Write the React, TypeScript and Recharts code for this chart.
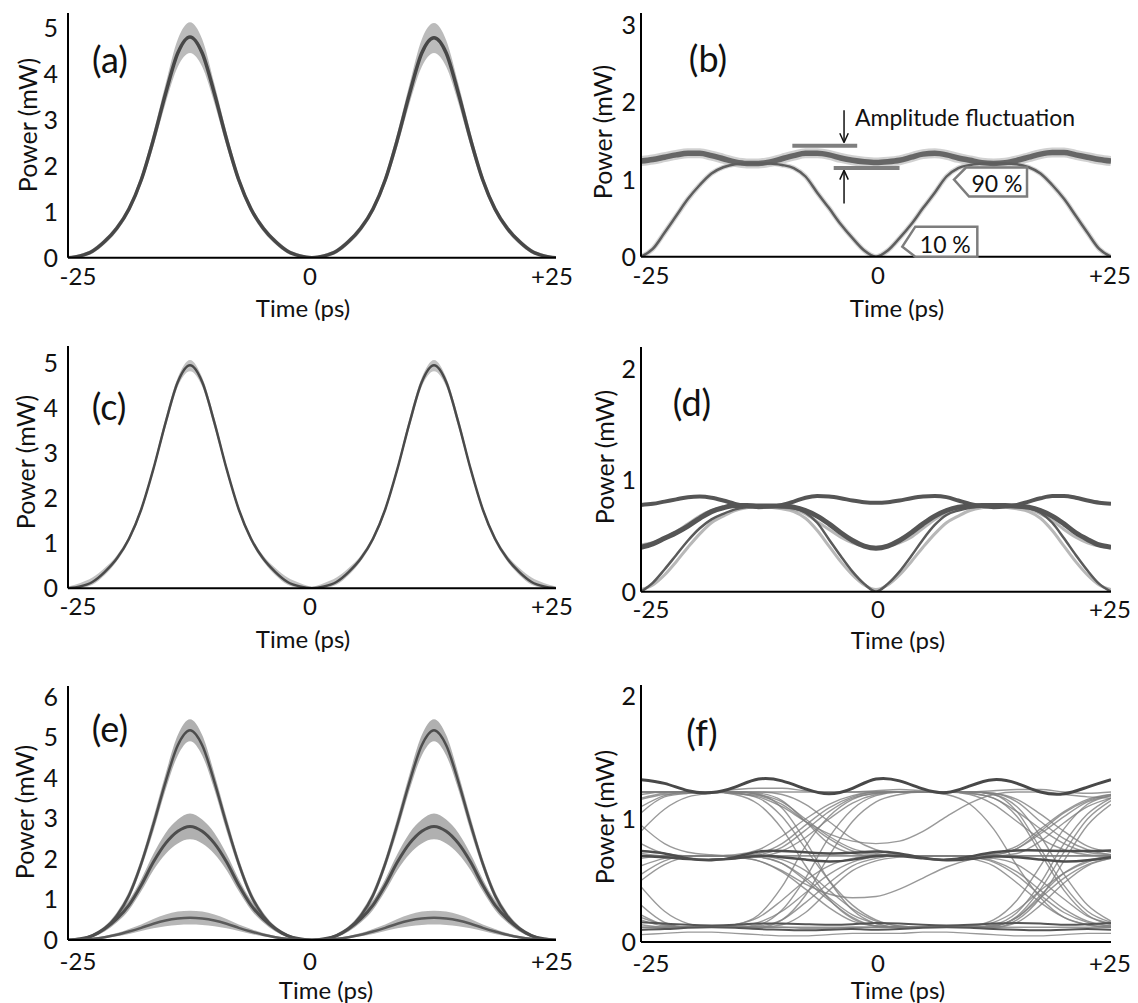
import React from 'react';
import { ComposedChart, Line, Area, XAxis, YAxis, ReferenceLine, ReferenceDot } from 'recharts';

const FONT = 'Lato, "Open Sans", sans-serif';
const INK = '#111';

// time grid (ps)
const TIME = [-25, -23.75, -22.5, -21.25, -20, -18.75, -17.5, -16.25, -15, -13.75, -12.5, -11.25, -10, -8.75, -7.5, -6.25, -5, -3.75, -2.5, -1.25, 0, 1.25, 2.5, 3.75, 5, 6.25, 7.5, 8.75, 10, 11.25, 12.5, 13.75, 15, 16.25, 17.5, 18.75, 20, 21.25, 22.5, 23.75, 25];
const TIME_F = [-25, -22.5, -20, -17.5, -15, -12.5, -10, -7.5, -5, -2.5, 0, 2.5, 5, 7.5, 10, 12.5, 15, 17.5, 20, 22.5, 25];
const X_TICKS = [-25, 0, 25];

// (a)
const A_MID = [0, 0.04, 0.14, 0.35, 0.64, 1.06, 1.69, 2.57, 3.57, 4.45, 4.8, 4.45, 3.57, 2.57, 1.69, 1.06, 0.64, 0.35, 0.14, 0.04, 0, 0.04, 0.14, 0.35, 0.64, 1.06, 1.69, 2.57, 3.57, 4.45, 4.78, 4.45, 3.57, 2.57, 1.69, 1.06, 0.64, 0.35, 0.14, 0.04, 0];
const A_HI = [0.03, 0.08, 0.19, 0.41, 0.71, 1.14, 1.79, 2.72, 3.78, 4.75, 5.12, 4.75, 3.78, 2.72, 1.79, 1.14, 0.71, 0.41, 0.19, 0.08, 0.03, 0.08, 0.19, 0.41, 0.71, 1.14, 1.79, 2.72, 3.78, 4.75, 5.1, 4.73, 3.78, 2.72, 1.79, 1.14, 0.71, 0.41, 0.19, 0.08, 0.03];
const A_LO = [0, 0.01, 0.09, 0.29, 0.57, 0.98, 1.59, 2.42, 3.36, 4.15, 4.45, 4.15, 3.36, 2.42, 1.59, 0.98, 0.57, 0.29, 0.09, 0.01, 0, 0.01, 0.09, 0.29, 0.57, 0.98, 1.59, 2.42, 3.36, 4.15, 4.45, 4.15, 3.36, 2.42, 1.59, 0.98, 0.57, 0.29, 0.09, 0.01, 0];

// (b)
const B_UPPER = [1.24, 1.26, 1.29, 1.32, 1.34, 1.34, 1.31, 1.27, 1.23, 1.21, 1.21, 1.23, 1.27, 1.31, 1.34, 1.34, 1.32, 1.28, 1.25, 1.23, 1.22, 1.23, 1.25, 1.29, 1.33, 1.34, 1.32, 1.28, 1.25, 1.22, 1.21, 1.22, 1.25, 1.29, 1.33, 1.35, 1.35, 1.32, 1.29, 1.26, 1.24];
const B_LOWER = [0, 0.1, 0.31, 0.53, 0.75, 0.93, 1.08, 1.16, 1.2, 1.21, 1.21, 1.21, 1.19, 1.15, 1.04, 0.83, 0.63, 0.42, 0.24, 0.08, 0, 0.08, 0.24, 0.42, 0.63, 0.83, 1.04, 1.15, 1.19, 1.21, 1.21, 1.21, 1.2, 1.16, 1.08, 0.93, 0.75, 0.53, 0.31, 0.1, 0];

// (c)
const C_MID = [0, 0.04, 0.14, 0.36, 0.66, 1.1, 1.75, 2.65, 3.68, 4.58, 4.95, 4.58, 3.68, 2.65, 1.75, 1.1, 0.66, 0.36, 0.14, 0.04, 0, 0.04, 0.14, 0.36, 0.66, 1.1, 1.75, 2.65, 3.68, 4.58, 4.95, 4.58, 3.68, 2.65, 1.75, 1.1, 0.66, 0.36, 0.14, 0.04, 0];
const C_HI = [0.04, 0.12, 0.24, 0.45, 0.73, 1.16, 1.81, 2.72, 3.78, 4.68, 5.07, 4.68, 3.78, 2.72, 1.81, 1.16, 0.73, 0.45, 0.24, 0.12, 0.04, 0.12, 0.24, 0.45, 0.73, 1.16, 1.81, 2.72, 3.78, 4.68, 5.07, 4.68, 3.78, 2.72, 1.81, 1.16, 0.73, 0.45, 0.24, 0.12, 0.04];
const C_LO = [0, 0.01, 0.08, 0.29, 0.6, 1.04, 1.69, 2.58, 3.58, 4.48, 4.82, 4.48, 3.58, 2.58, 1.69, 1.04, 0.6, 0.29, 0.08, 0.01, 0, 0.01, 0.08, 0.29, 0.6, 1.04, 1.69, 2.58, 3.58, 4.48, 4.82, 4.48, 3.58, 2.58, 1.69, 1.04, 0.6, 0.29, 0.08, 0.01, 0];

// (d)
const D_UPPER = [0.78, 0.79, 0.81, 0.83, 0.85, 0.855, 0.845, 0.82, 0.79, 0.77, 0.76, 0.765, 0.78, 0.81, 0.845, 0.86, 0.855, 0.84, 0.82, 0.805, 0.8, 0.805, 0.82, 0.84, 0.855, 0.86, 0.85, 0.82, 0.79, 0.77, 0.76, 0.765, 0.78, 0.81, 0.84, 0.86, 0.86, 0.845, 0.82, 0.8, 0.79];
const D_MID = [0.4, 0.43, 0.48, 0.53, 0.59, 0.66, 0.72, 0.755, 0.775, 0.775, 0.77, 0.77, 0.77, 0.76, 0.73, 0.68, 0.61, 0.53, 0.46, 0.41, 0.39, 0.41, 0.46, 0.53, 0.61, 0.68, 0.73, 0.76, 0.77, 0.775, 0.775, 0.775, 0.77, 0.76, 0.73, 0.68, 0.61, 0.53, 0.47, 0.42, 0.4];
const D_MID_ALT = [0.42, 0.44, 0.48, 0.54, 0.61, 0.68, 0.73, 0.76, 0.77, 0.775, 0.775, 0.77, 0.76, 0.74, 0.7, 0.63, 0.56, 0.49, 0.44, 0.41, 0.4, 0.41, 0.44, 0.49, 0.57, 0.65, 0.71, 0.75, 0.77, 0.775, 0.775, 0.775, 0.765, 0.745, 0.7, 0.64, 0.56, 0.49, 0.44, 0.41, 0.4];
const D_LOW = [0, 0.08, 0.2, 0.33, 0.46, 0.57, 0.65, 0.7, 0.74, 0.76, 0.765, 0.765, 0.76, 0.75, 0.71, 0.62, 0.47, 0.32, 0.18, 0.07, 0, 0.07, 0.18, 0.32, 0.47, 0.6, 0.69, 0.73, 0.755, 0.765, 0.765, 0.765, 0.76, 0.75, 0.71, 0.62, 0.48, 0.33, 0.19, 0.07, 0];
const D_LOW_ALT = [0.02, 0.06, 0.15, 0.27, 0.4, 0.52, 0.62, 0.68, 0.73, 0.755, 0.765, 0.76, 0.745, 0.72, 0.66, 0.55, 0.41, 0.27, 0.15, 0.06, 0.02, 0.06, 0.15, 0.27, 0.4, 0.52, 0.62, 0.68, 0.73, 0.755, 0.765, 0.76, 0.745, 0.72, 0.66, 0.55, 0.41, 0.27, 0.15, 0.06, 0.02];

// (e)
const E_TOP = [0, 0.02, 0.1, 0.28, 0.6, 1.1, 1.88, 2.85, 3.9, 4.8, 5.17, 4.8, 3.9, 2.85, 1.88, 1.1, 0.6, 0.28, 0.1, 0.02, 0, 0.02, 0.1, 0.28, 0.6, 1.1, 1.88, 2.85, 3.9, 4.8, 5.17, 4.8, 3.9, 2.85, 1.88, 1.1, 0.6, 0.28, 0.1, 0.02, 0];
const E_TOP_HI = [0.02, 0.05, 0.14, 0.34, 0.68, 1.2, 2.0, 3.02, 4.1, 5.05, 5.44, 5.05, 4.1, 3.02, 2.0, 1.2, 0.68, 0.34, 0.14, 0.05, 0.02, 0.05, 0.14, 0.34, 0.68, 1.2, 2.0, 3.02, 4.1, 5.05, 5.44, 5.05, 4.1, 3.02, 2.0, 1.2, 0.68, 0.34, 0.14, 0.05, 0.02];
const E_TOP_LO = [0, 0, 0.06, 0.22, 0.52, 1.0, 1.76, 2.68, 3.7, 4.55, 4.9, 4.55, 3.7, 2.68, 1.76, 1.0, 0.52, 0.22, 0.06, 0, 0, 0, 0.06, 0.22, 0.52, 1.0, 1.76, 2.68, 3.7, 4.55, 4.9, 4.55, 3.7, 2.68, 1.76, 1.0, 0.52, 0.22, 0.06, 0, 0];
const E_MID = [0, 0.03, 0.11, 0.28, 0.52, 0.86, 1.35, 1.92, 2.38, 2.68, 2.8, 2.68, 2.38, 1.92, 1.35, 0.86, 0.52, 0.28, 0.11, 0.03, 0, 0.03, 0.11, 0.28, 0.52, 0.86, 1.35, 1.92, 2.38, 2.68, 2.8, 2.68, 2.38, 1.92, 1.35, 0.86, 0.52, 0.28, 0.11, 0.03, 0];
const E_MID_HI = [0.02, 0.05, 0.15, 0.34, 0.61, 0.98, 1.5, 2.12, 2.64, 2.97, 3.12, 2.97, 2.64, 2.12, 1.5, 0.98, 0.61, 0.34, 0.15, 0.05, 0.02, 0.05, 0.15, 0.34, 0.61, 0.98, 1.5, 2.12, 2.64, 2.97, 3.12, 2.97, 2.64, 2.12, 1.5, 0.98, 0.61, 0.34, 0.15, 0.05, 0.02];
const E_MID_LO = [0, 0.01, 0.07, 0.21, 0.43, 0.74, 1.2, 1.72, 2.12, 2.38, 2.48, 2.38, 2.12, 1.72, 1.2, 0.74, 0.43, 0.21, 0.07, 0.01, 0, 0.01, 0.07, 0.21, 0.43, 0.74, 1.2, 1.72, 2.12, 2.38, 2.48, 2.38, 2.12, 1.72, 1.2, 0.74, 0.43, 0.21, 0.07, 0.01, 0];
const E_LOW = [0, 0.01, 0.03, 0.07, 0.13, 0.21, 0.3, 0.4, 0.48, 0.53, 0.55, 0.53, 0.48, 0.4, 0.3, 0.21, 0.13, 0.07, 0.03, 0.01, 0, 0.01, 0.03, 0.07, 0.13, 0.21, 0.3, 0.4, 0.48, 0.53, 0.55, 0.53, 0.48, 0.4, 0.3, 0.21, 0.13, 0.07, 0.03, 0.01, 0];
const E_LOW_HI = [0.01, 0.02, 0.05, 0.1, 0.17, 0.27, 0.38, 0.52, 0.63, 0.7, 0.72, 0.7, 0.63, 0.52, 0.38, 0.27, 0.17, 0.1, 0.05, 0.02, 0.01, 0.02, 0.05, 0.1, 0.17, 0.27, 0.38, 0.52, 0.63, 0.7, 0.72, 0.7, 0.63, 0.52, 0.38, 0.27, 0.17, 0.1, 0.05, 0.02, 0.01];
const E_LOW_LO = [0, 0, 0.01, 0.04, 0.09, 0.15, 0.22, 0.29, 0.34, 0.37, 0.38, 0.37, 0.34, 0.29, 0.22, 0.15, 0.09, 0.04, 0.01, 0, 0, 0, 0.01, 0.04, 0.09, 0.15, 0.22, 0.29, 0.34, 0.37, 0.38, 0.37, 0.34, 0.29, 0.22, 0.15, 0.09, 0.04, 0.01, 0, 0];

// (f) steady levels
const F_TOP = [1.32, 1.29, 1.23, 1.215, 1.26, 1.325, 1.31, 1.245, 1.205, 1.25, 1.325, 1.31, 1.245, 1.215, 1.27, 1.32, 1.29, 1.22, 1.205, 1.26, 1.32];
const F_MID_A = [0.74, 0.72, 0.68, 0.665, 0.69, 0.735, 0.74, 0.73, 0.72, 0.725, 0.735, 0.72, 0.685, 0.67, 0.695, 0.73, 0.745, 0.745, 0.74, 0.74, 0.745];
const F_MID_B = [0.7, 0.69, 0.675, 0.67, 0.68, 0.7, 0.69, 0.67, 0.655, 0.67, 0.7, 0.7, 0.68, 0.665, 0.675, 0.695, 0.69, 0.67, 0.655, 0.665, 0.69];
const F_LOW_A = [0.16, 0.15, 0.14, 0.135, 0.14, 0.15, 0.15, 0.145, 0.14, 0.145, 0.155, 0.15, 0.14, 0.135, 0.14, 0.15, 0.155, 0.15, 0.14, 0.145, 0.155];
const F_LOW_B = [0.1, 0.105, 0.115, 0.12, 0.115, 0.105, 0.1, 0.095, 0.1, 0.105, 0.1, 0.105, 0.115, 0.12, 0.115, 0.105, 0.1, 0.095, 0.1, 0.105, 0.1];

// (f) transition traces
const F_T1 = [1.17, 1.21, 1.22, 1.22, 1.22, 1.2, 1.09, 0.82, 0.5, 0.26, 0.15, 0.12, 0.12, 0.12, 0.12, 0.13, 0.21, 0.43, 0.73, 1.0, 1.15];
const F_T2 = [1.1, 1.19, 1.22, 1.22, 1.21, 1.19, 1.12, 0.98, 0.84, 0.74, 0.71, 0.7, 0.7, 0.7, 0.69, 0.68, 0.63, 0.5, 0.35, 0.21, 0.15];
const F_T3 = [0.62, 0.68, 0.7, 0.7, 0.7, 0.71, 0.77, 0.91, 1.06, 1.17, 1.21, 1.22, 1.22, 1.22, 1.22, 1.21, 1.16, 1.04, 0.9, 0.78, 0.73];
const F_T4 = [0.3, 0.16, 0.12, 0.12, 0.12, 0.14, 0.26, 0.52, 0.85, 1.08, 1.19, 1.22, 1.22, 1.22, 1.22, 1.2, 1.1, 0.86, 0.55, 0.3, 0.17];
const F_T5 = [0.8, 0.72, 0.7, 0.7, 0.7, 0.69, 0.64, 0.5, 0.34, 0.2, 0.13, 0.12, 0.12, 0.12, 0.12, 0.14, 0.24, 0.48, 0.8, 1.04, 1.17];
const F_T6 = [0.18, 0.13, 0.12, 0.12, 0.12, 0.13, 0.18, 0.32, 0.48, 0.62, 0.68, 0.7, 0.7, 0.7, 0.7, 0.71, 0.76, 0.88, 1.02, 1.14, 1.19];
const F_T7 = [1.2, 1.22, 1.22, 1.22, 1.2, 1.12, 0.92, 0.62, 0.35, 0.19, 0.13, 0.12, 0.12, 0.12, 0.12, 0.12, 0.16, 0.3, 0.48, 0.62, 0.68];
const F_T8 = [0.5, 0.63, 0.69, 0.7, 0.7, 0.7, 0.74, 0.85, 1.0, 1.13, 1.2, 1.22, 1.22, 1.22, 1.21, 1.17, 1.02, 0.72, 0.42, 0.22, 0.14];
const F_T9 = [0.14, 0.12, 0.12, 0.12, 0.13, 0.16, 0.25, 0.4, 0.55, 0.65, 0.69, 0.7, 0.7, 0.7, 0.69, 0.66, 0.57, 0.42, 0.27, 0.17, 0.13];
const F_T10 = [1.22, 1.22, 1.22, 1.22, 1.21, 1.18, 1.1, 0.98, 0.88, 0.82, 0.8, 0.82, 0.9, 1.02, 1.13, 1.2, 1.22, 1.22, 1.2, 1.18, 1.17];
const F_T11 = [0.7, 0.7, 0.7, 0.7, 0.69, 0.66, 0.57, 0.43, 0.28, 0.17, 0.13, 0.12, 0.12, 0.12, 0.13, 0.16, 0.26, 0.42, 0.56, 0.65, 0.69];
const F_T12 = [0.2, 0.14, 0.12, 0.12, 0.12, 0.12, 0.18, 0.38, 0.7, 0.98, 1.14, 1.2, 1.22, 1.22, 1.22, 1.21, 1.14, 0.98, 0.84, 0.75, 0.71];
const F_T13 = [1.16, 1.2, 1.21, 1.22, 1.24, 1.25, 1.25, 1.23, 1.22, 1.22, 1.23, 1.24, 1.23, 1.22, 1.22, 1.2, 1.06, 0.76, 0.46, 0.25, 0.16];
const F_T14 = [0.1, 0.11, 0.12, 0.12, 0.12, 0.12, 0.12, 0.11, 0.11, 0.12, 0.12, 0.12, 0.12, 0.12, 0.12, 0.13, 0.2, 0.36, 0.52, 0.63, 0.68];
const F_T15 = [0.7, 0.7, 0.7, 0.7, 0.7, 0.7, 0.7, 0.7, 0.7, 0.7, 0.7, 0.7, 0.7, 0.7, 0.7, 0.71, 0.76, 0.9, 1.05, 1.15, 1.2];
const F_T16 = [0.45, 0.25, 0.15, 0.12, 0.12, 0.12, 0.14, 0.24, 0.42, 0.58, 0.66, 0.69, 0.7, 0.7, 0.7, 0.7, 0.7, 0.7, 0.7, 0.7, 0.7];
const F_T17 = [0.7, 0.7, 0.7, 0.7, 0.69, 0.66, 0.58, 0.47, 0.39, 0.36, 0.37, 0.43, 0.52, 0.61, 0.67, 0.7, 0.7, 0.7, 0.7, 0.7, 0.7];
const F_T18 = [1.22, 1.22, 1.22, 1.22, 1.22, 1.22, 1.2, 1.12, 0.98, 0.84, 0.75, 0.71, 0.7, 0.7, 0.7, 0.7, 0.72, 0.82, 0.97, 1.1, 1.17];
const F_T19 = [1.05, 1.18, 1.21, 1.22, 1.21, 1.17, 1.02, 0.76, 0.5, 0.3, 0.18, 0.13, 0.12, 0.12, 0.12, 0.12, 0.12, 0.12, 0.12, 0.12, 0.12];
const F_T20 = [0.55, 0.66, 0.7, 0.7, 0.7, 0.72, 0.8, 0.95, 1.09, 1.18, 1.22, 1.22, 1.22, 1.22, 1.22, 1.23, 1.24, 1.24, 1.22, 1.21, 1.22];
const F_T21 = [0.22, 0.14, 0.12, 0.12, 0.14, 0.2, 0.34, 0.5, 0.62, 0.68, 0.7, 0.7, 0.7, 0.7, 0.68, 0.62, 0.48, 0.32, 0.2, 0.14, 0.12];
const F_T22 = [1.22, 1.22, 1.22, 1.22, 1.22, 1.2, 1.14, 1.0, 0.86, 0.76, 0.72, 0.7, 0.7, 0.7, 0.7, 0.72, 0.78, 0.92, 1.06, 1.16, 1.2];
const F_T23 = [0.68, 0.7, 0.7, 0.7, 0.7, 0.7, 0.67, 0.58, 0.42, 0.27, 0.17, 0.13, 0.12, 0.12, 0.12, 0.12, 0.18, 0.36, 0.66, 0.95, 1.12];
const F_T24 = [0.12, 0.12, 0.12, 0.12, 0.14, 0.22, 0.45, 0.78, 1.02, 1.16, 1.21, 1.22, 1.22, 1.22, 1.2, 1.12, 0.98, 0.84, 0.75, 0.71, 0.7];
const F_T25 = [0.72, 0.7, 0.7, 0.7, 0.7, 0.7, 0.7, 0.7, 0.7, 0.7, 0.7, 0.7, 0.7, 0.7, 0.69, 0.65, 0.54, 0.38, 0.24, 0.16, 0.13];
const F_T26 = [1.22, 1.22, 1.22, 1.22, 1.22, 1.22, 1.22, 1.22, 1.22, 1.22, 1.22, 1.22, 1.22, 1.22, 1.21, 1.17, 1.06, 0.92, 0.8, 0.73, 0.71];
const F_T27 = [0.12, 0.12, 0.12, 0.12, 0.12, 0.12, 0.12, 0.12, 0.12, 0.12, 0.12, 0.12, 0.12, 0.12, 0.13, 0.18, 0.34, 0.62, 0.92, 1.12, 1.19];
const F_T28 = [0.7, 0.7, 0.7, 0.7, 0.71, 0.75, 0.86, 1.0, 1.12, 1.19, 1.22, 1.22, 1.22, 1.2, 1.12, 0.92, 0.62, 0.36, 0.2, 0.14, 0.12];
const F_T29 = [0.95, 0.8, 0.73, 0.71, 0.7, 0.69, 0.64, 0.52, 0.36, 0.22, 0.15, 0.12, 0.12, 0.12, 0.12, 0.13, 0.2, 0.38, 0.56, 0.66, 0.7];
const F_T30 = [0.9, 1.08, 1.18, 1.21, 1.22, 1.21, 1.15, 0.98, 0.8, 0.72, 0.7, 0.7, 0.7, 0.7, 0.7, 0.7, 0.7, 0.7, 0.7, 0.7, 0.7];
const F_T31 = [0.06, 0.07, 0.08, 0.08, 0.07, 0.06, 0.05, 0.05, 0.06, 0.07, 0.07, 0.07, 0.08, 0.08, 0.07, 0.06, 0.05, 0.05, 0.06, 0.07, 0.07];
const F_TRACES = [F_T1, F_T2, F_T3, F_T4, F_T5, F_T6, F_T7, F_T8, F_T9, F_T10, F_T11, F_T12, F_T13, F_T14, F_T15, F_T16, F_T17, F_T18, F_T19, F_T20, F_T21, F_T22, F_T23, F_T24, F_T25, F_T26, F_T27, F_T28, F_T29, F_T30, F_T31];

const dataA = TIME.map((t, i) => ({ t, mid: A_MID[i], band: [A_LO[i], A_HI[i]] }));
const dataB = TIME.map((t, i) => ({ t, upper: B_UPPER[i], lower: B_LOWER[i] }));
const dataC = TIME.map((t, i) => ({ t, mid: C_MID[i], band: [C_LO[i], C_HI[i]] }));
const dataD = TIME.map((t, i) => ({ t, upper: D_UPPER[i], mid: D_MID[i], midAlt: D_MID_ALT[i], low: D_LOW[i], lowAlt: D_LOW_ALT[i] }));
const dataE = TIME.map((t, i) => ({
  t,
  top: E_TOP[i], topBand: [E_TOP_LO[i], E_TOP_HI[i]],
  mid: E_MID[i], midBand: [E_MID_LO[i], E_MID_HI[i]],
  low: E_LOW[i], lowBand: [E_LOW_LO[i], E_LOW_HI[i]],
}));
const dataF = TIME_F.map((t, i) => {
  const row: Record<string, number> = { t, top: F_TOP[i], midA: F_MID_A[i], midB: F_MID_B[i], lowA: F_LOW_A[i], lowB: F_LOW_B[i] };
  F_TRACES.forEach((tr, k) => { row['tr' + k] = tr[i]; });
  return row;
});

const X_SHIFT: Record<string, Record<number, number>> = {
  left: { [-25]: 10, 0: -2, 25: -4 },
  right: { [-25]: 10, 0: 2, 25: -1 },
};

function XTick({ x, y, payload, side, drop }: any) {
  const v = payload.value;
  const label = v > 0 ? `+${v}` : `${v}`;
  return (
    <text x={x + (X_SHIFT[side][v] ?? 0)} y={y + drop} textAnchor="middle" fontSize={24} fontFamily={FONT} fill={INK}>
      {label}
    </text>
  );
}

function YTick({ x, y, payload, gap }: any) {
  return (
    <text x={x - gap} y={y + 9} textAnchor="end" fontSize={25} fontFamily={FONT} fill={INK}>
      {payload.value}
    </text>
  );
}

function Panel({ left, top, width, height, plot, yMax, yTicks, data, side, drop, children }: any) {
  const margin = {
    top: plot.t - top,
    right: left + width - plot.r,
    bottom: top + height - plot.b - 40,
    left: plot.l - left - 40,
  };
  return (
    <div style={{ position: 'absolute', left, top, width, height }}>
      <ComposedChart width={width} height={height} data={data} margin={margin}>
        <XAxis
          dataKey="t"
          type="number"
          domain={[-25, 25]}
          ticks={X_TICKS}
          interval={0}
          allowDataOverflow
          height={40}
          tickSize={0}
          tickMargin={0}
          tickLine={false}
          axisLine={{ stroke: '#000', strokeWidth: 2 }}
          tick={(p: any) => <XTick {...p} side={side} drop={drop} />}
        />
        <YAxis
          type="number"
          domain={[0, yMax]}
          ticks={yTicks}
          interval={0}
          allowDataOverflow
          width={40}
          tickSize={0}
          tickMargin={0}
          tickLine={false}
          axisLine={{ stroke: '#000', strokeWidth: 2 }}
          tick={(p: any) => <YTick {...p} gap={side === 'left' ? 10 : 5} />}
        />
        {children}
      </ComposedChart>
    </div>
  );
}

function Callout({ cx, cy, pts, label, tx, ty }: any) {
  return (
    <g>
      <polygon
        points={pts.map(([px, py]: number[]) => `${cx + px},${cy + py}`).join(' ')}
        fill="#fff"
        stroke="#7d7d7d"
        strokeWidth={2.5}
      />
      <text x={cx + tx} y={cy + ty} textAnchor="middle" dominantBaseline="central" fontSize={23} fontFamily={FONT} fill={INK}>
        {label}
      </text>
    </g>
  );
}

const lineProps = { type: 'monotone' as const, dot: false, activeDot: false, isAnimationActive: false };
const bandProps = { type: 'monotone' as const, stroke: 'none', isAnimationActive: false, activeDot: false };

const LEFT_X = { l: 68, r: 556 };
const RIGHT_X = { l: 641, r: 1111 };

const LETTERS = [
  { s: '(a)', x: 110, y: 59 },
  { s: '(b)', x: 708, y: 58 },
  { s: '(c)', x: 109, y: 406 },
  { s: '(d)', x: 692, y: 402 },
  { s: '(e)', x: 110, y: 728 },
  { s: '(f)', x: 702, y: 732 },
];
const Y_TITLES = [
  { x: 27, y: 125 }, { x: 602, y: 132 },
  { x: 25, y: 462 }, { x: 604, y: 457 },
  { x: 24, y: 812 }, { x: 604, y: 817 },
];
const X_TITLES = [
  { x: 303, y: 317 }, { x: 897, y: 317 },
  { x: 303, y: 648 }, { x: 898, y: 649 },
  { x: 326, y: 999 }, { x: 898, y: 999 },
];

export default function App() {
  return (
    <div style={{ position: 'absolute', left: 0, top: 0, width: 1138, height: 1003, background: '#fff', fontFamily: FONT }}>
      {/* (a) */}
      <Panel left={0} top={0} width={578} height={330} plot={{ ...LEFT_X, t: 13, b: 257.7 }} yMax={5.32} yTicks={[0, 1, 2, 3, 4, 5]} data={dataA} side="left" drop={27}>
        <Area {...bandProps} dataKey="band" fill="#777" fillOpacity={0.5} />
        <Line {...lineProps} dataKey="mid" stroke="#474747" strokeWidth={3.5} />
      </Panel>

      {/* (b) */}
      <Panel left={570} top={0} width={568} height={330} plot={{ ...RIGHT_X, t: 13, b: 256.7 }} yMax={3.16} yTicks={[0, 1, 2, 3]} data={dataB} side="right" drop={27}>
        <Line {...lineProps} dataKey="upper" stroke="#bdbdbd" strokeWidth={10} strokeOpacity={0.7} />
        <Line {...lineProps} dataKey="lower" stroke="#c4c4c4" strokeWidth={5} strokeOpacity={0.7} />
        <Line {...lineProps} dataKey="upper" stroke="#666" strokeWidth={5.5} />
        <Line {...lineProps} dataKey="lower" stroke="#5e5e5e" strokeWidth={2.5} />
        <ReferenceLine segment={[{ x: -8.9, y: 1.44 }, { x: -2.0, y: 1.44 }]} stroke="#7f7f7f" strokeWidth={4} ifOverflow="visible" />
        <ReferenceLine segment={[{ x: -4.5, y: 1.15 }, { x: 2.5, y: 1.15 }]} stroke="#7f7f7f" strokeWidth={4} ifOverflow="visible" />
        <ReferenceLine segment={[{ x: -3.4, y: 1.9 }, { x: -3.4, y: 1.48 }]} stroke={INK} strokeWidth={1.5} ifOverflow="visible" />
        <ReferenceLine segment={[{ x: -3.85, y: 1.6 }, { x: -3.4, y: 1.48 }]} stroke={INK} strokeWidth={1.5} ifOverflow="visible" />
        <ReferenceLine segment={[{ x: -2.95, y: 1.6 }, { x: -3.4, y: 1.48 }]} stroke={INK} strokeWidth={1.5} ifOverflow="visible" />
        <ReferenceLine segment={[{ x: -3.4, y: 0.69 }, { x: -3.4, y: 1.12 }]} stroke={INK} strokeWidth={1.5} ifOverflow="visible" />
        <ReferenceLine segment={[{ x: -3.85, y: 1.0 }, { x: -3.4, y: 1.12 }]} stroke={INK} strokeWidth={1.5} ifOverflow="visible" />
        <ReferenceLine segment={[{ x: -2.95, y: 1.0 }, { x: -3.4, y: 1.12 }]} stroke={INK} strokeWidth={1.5} ifOverflow="visible" />
        <ReferenceDot
          x={8.3}
          y={1.0}
          r={0}
          ifOverflow="visible"
          shape={(p: any) => (
            <Callout cx={p.cx} cy={p.cy} pts={[[0, 0], [12, -12], [73, -12], [73, 17], [15, 17]]} label="90 %" tx={43} ty={3} />
          )}
        />
        <ReferenceDot
          x={2.8}
          y={0.13}
          r={0}
          ifOverflow="visible"
          shape={(p: any) => (
            <Callout cx={p.cx} cy={p.cy} pts={[[0, 0], [13, -20], [75, -20], [75, 10], [13, 10]]} label="10 %" tx={43} ty={-3} />
          )}
        />
      </Panel>

      {/* (c) */}
      <Panel left={0} top={330} width={578} height={330} plot={{ ...LEFT_X, t: 346, b: 588.3 }} yMax={5.38} yTicks={[0, 1, 2, 3, 4, 5]} data={dataC} side="left" drop={27}>
        <Area {...bandProps} dataKey="band" fill="#777" fillOpacity={0.45} />
        <Line {...lineProps} dataKey="mid" stroke="#4a4a4a" strokeWidth={2.5} />
      </Panel>

      {/* (d) */}
      <Panel left={570} top={330} width={568} height={330} plot={{ ...RIGHT_X, t: 347, b: 591.7 }} yMax={2.2} yTicks={[0, 1, 2]} data={dataD} side="right" drop={26}>
        <Line {...lineProps} dataKey="midAlt" stroke="#9a9a9a" strokeWidth={3} strokeOpacity={0.7} />
        <Line {...lineProps} dataKey="lowAlt" stroke="#9a9a9a" strokeWidth={3} strokeOpacity={0.7} />
        <Line {...lineProps} dataKey="low" stroke="#5a5a5a" strokeWidth={2.5} />
        <Line {...lineProps} dataKey="mid" stroke="#555" strokeWidth={5} />
        <Line {...lineProps} dataKey="upper" stroke="#555" strokeWidth={4} />
      </Panel>

      {/* (e) */}
      <Panel left={0} top={660} width={578} height={343} plot={{ ...LEFT_X, t: 686, b: 940 }} yMax={6.26} yTicks={[0, 1, 2, 3, 4, 5, 6]} data={dataE} side="left" drop={30}>
        <Area {...bandProps} dataKey="topBand" fill="#6f6f6f" fillOpacity={0.55} />
        <Area {...bandProps} dataKey="midBand" fill="#6f6f6f" fillOpacity={0.55} />
        <Area {...bandProps} dataKey="lowBand" fill="#6f6f6f" fillOpacity={0.5} />
        <Line {...lineProps} dataKey="top" stroke="#4d4d4d" strokeWidth={2.5} />
        <Line {...lineProps} dataKey="mid" stroke="#4d4d4d" strokeWidth={3} />
        <Line {...lineProps} dataKey="low" stroke="#5a5a5a" strokeWidth={2.5} />
      </Panel>

      {/* (f) */}
      <Panel left={570} top={660} width={568} height={343} plot={{ ...RIGHT_X, t: 685, b: 942 }} yMax={2.09} yTicks={[0, 1, 2]} data={dataF} side="right" drop={30}>
        {F_TRACES.map((_, k) => (
          <Line key={k} {...lineProps} dataKey={'tr' + k} stroke="#7f7f7f" strokeWidth={1.4} strokeOpacity={0.8} />
        ))}
        <Line {...lineProps} type="natural" dataKey="lowB" stroke="#555" strokeWidth={2} />
        <Line {...lineProps} type="natural" dataKey="lowA" stroke="#555" strokeWidth={2} />
        <Line {...lineProps} type="natural" dataKey="midB" stroke="#4d4d4d" strokeWidth={2.5} />
        <Line {...lineProps} type="natural" dataKey="midA" stroke="#4d4d4d" strokeWidth={2.5} />
        <Line {...lineProps} type="natural" dataKey="top" stroke="#484848" strokeWidth={3} />
      </Panel>

      <svg width={1138} height={1003} style={{ position: 'absolute', left: 0, top: 0, pointerEvents: 'none' }}>
        {LETTERS.map((l) => (
          <text key={l.s} x={l.x} y={l.y} textAnchor="middle" dominantBaseline="central" fontSize={36} fontFamily={FONT} fill={INK}>
            {l.s}
          </text>
        ))}
        {Y_TITLES.map((p, i) => (
          <text key={i} x={p.x} y={p.y} transform={`rotate(-90 ${p.x} ${p.y})`} textAnchor="middle" dominantBaseline="central" fontSize={25} fontFamily={FONT} fill={INK}>
            Power (mW)
          </text>
        ))}
        {X_TITLES.map((p, i) => (
          <text key={i} x={p.x} y={p.y} textAnchor="middle" fontSize={24} fontFamily={FONT} fill={INK}>
            Time (ps)
          </text>
        ))}
        <text x={855} y={126} fontSize={23} fontFamily={FONT} fill={INK}>
          Amplitude fluctuation
        </text>
      </svg>
    </div>
  );
}
